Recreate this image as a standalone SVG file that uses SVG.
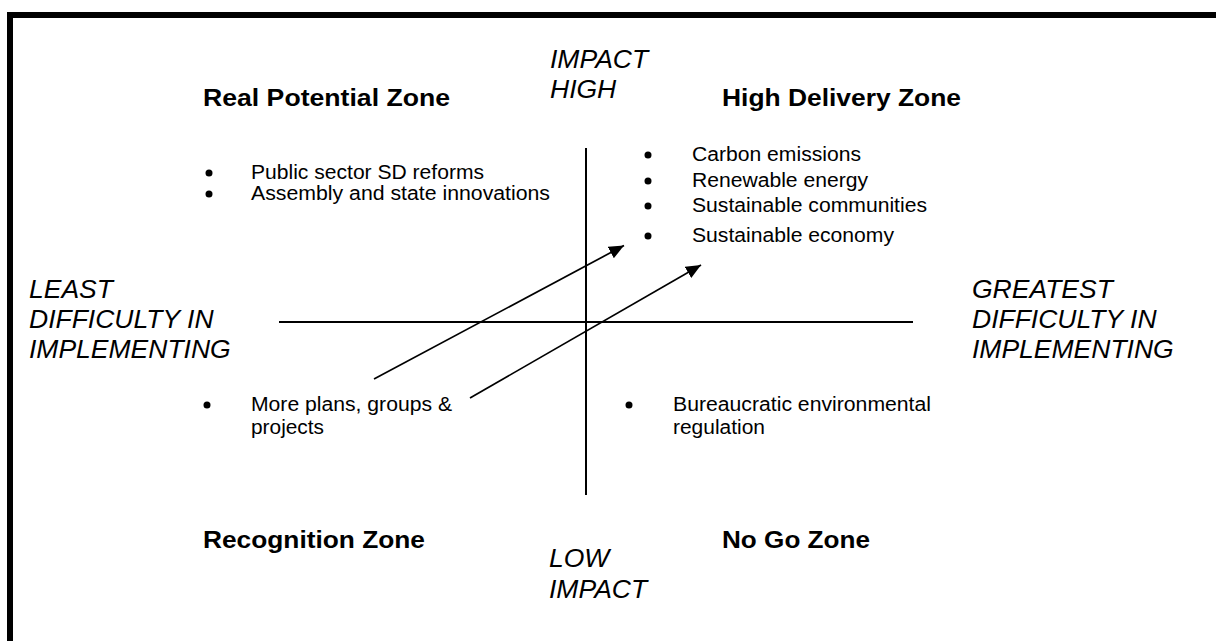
<svg xmlns="http://www.w3.org/2000/svg" width="1216" height="641" viewBox="0 0 1216 641">
<style>
.zone{font-family:"Liberation Sans",Arial,sans-serif;font-weight:bold;font-size:24px;fill:#000}
.axis{font-family:"Liberation Sans",Arial,sans-serif;font-style:italic;font-size:26.5px;fill:#000}
.item{font-family:"Liberation Sans",Arial,sans-serif;font-size:20px;fill:#000}
.ax{stroke:#000;stroke-width:2;fill:none}
.conn{stroke:#000;stroke-width:1.7;fill:none;marker-end:url(#ah)}
.dot{fill:#000}
</style>
<defs>
<marker id="ah" markerUnits="userSpaceOnUse" markerWidth="16" markerHeight="14" refX="15" refY="6.5" orient="auto">
<path d="M0,0 L15,6.5 L0,13 z" fill="#000"/>
</marker>
</defs>
<rect x="0" y="0" width="1216" height="641" fill="#fff"/>
<g id="frame">
<rect x="7" y="12" width="1209" height="6" fill="#000"/>
<rect x="7" y="12" width="6" height="629" fill="#000"/>
</g>
<g id="axes">
<line class="ax" x1="586" y1="148" x2="586" y2="495"/>
<line class="ax" x1="279" y1="322" x2="913" y2="322"/>
</g>
<g id="label-impact-high">
<text class="axis" x="550" y="68">IMPACT</text>
<text class="axis" x="550" y="98">HIGH</text>
</g>
<g id="label-low-impact">
<text class="axis" x="549" y="567">LOW</text>
<text class="axis" x="549" y="598">IMPACT</text>
</g>
<g id="label-least">
<text class="axis" x="29" y="298">LEAST</text>
<text class="axis" x="29" y="328">DIFFICULTY IN</text>
<text class="axis" x="29" y="358">IMPLEMENTING</text>
</g>
<g id="label-greatest">
<text class="axis" x="972" y="298">GREATEST</text>
<text class="axis" x="972" y="328">DIFFICULTY IN</text>
<text class="axis" x="972" y="358">IMPLEMENTING</text>
</g>
<g id="real-potential-zone">
<text class="zone" x="203" y="106" textLength="247" lengthAdjust="spacingAndGlyphs">Real Potential Zone</text>
<circle class="dot" cx="209" cy="173" r="3.5"/>
<text class="item" x="251" y="179" textLength="233" lengthAdjust="spacingAndGlyphs">Public sector SD reforms</text>
<circle class="dot" cx="209" cy="194" r="3.5"/>
<text class="item" x="251" y="200" textLength="299" lengthAdjust="spacingAndGlyphs">Assembly and state innovations</text>
</g>
<g id="high-delivery-zone">
<text class="zone" x="722" y="106" textLength="239" lengthAdjust="spacingAndGlyphs">High Delivery Zone</text>
<circle class="dot" cx="648" cy="155" r="3.5"/>
<text class="item" x="692" y="161" textLength="169" lengthAdjust="spacingAndGlyphs">Carbon emissions</text>
<circle class="dot" cx="648" cy="181" r="3.5"/>
<text class="item" x="692" y="187" textLength="176" lengthAdjust="spacingAndGlyphs">Renewable energy</text>
<circle class="dot" cx="648" cy="206" r="3.5"/>
<text class="item" x="692" y="212" textLength="235" lengthAdjust="spacingAndGlyphs">Sustainable communities</text>
<circle class="dot" cx="648" cy="236" r="3.5"/>
<text class="item" x="692" y="242" textLength="202" lengthAdjust="spacingAndGlyphs">Sustainable economy</text>
</g>
<g id="recognition-zone">
<text class="zone" x="203" y="548" textLength="222" lengthAdjust="spacingAndGlyphs">Recognition Zone</text>
<circle class="dot" cx="207" cy="405" r="3.5"/>
<text class="item" x="251" y="411" textLength="201" lengthAdjust="spacingAndGlyphs">More plans, groups &amp;</text>
<text class="item" x="251" y="434" textLength="73" lengthAdjust="spacingAndGlyphs">projects</text>
</g>
<g id="no-go-zone">
<text class="zone" x="722" y="548" textLength="148" lengthAdjust="spacingAndGlyphs">No Go Zone</text>
<circle class="dot" cx="629" cy="405" r="3.5"/>
<text class="item" x="673" y="411" textLength="258" lengthAdjust="spacingAndGlyphs">Bureaucratic environmental</text>
<text class="item" x="673" y="434" textLength="92" lengthAdjust="spacingAndGlyphs">regulation</text>
</g>
<g id="connectors">
<line class="conn" x1="374" y1="379" x2="624" y2="245.5"/>
<line class="conn" x1="470" y1="398" x2="701" y2="265"/>
</g>
</svg>
